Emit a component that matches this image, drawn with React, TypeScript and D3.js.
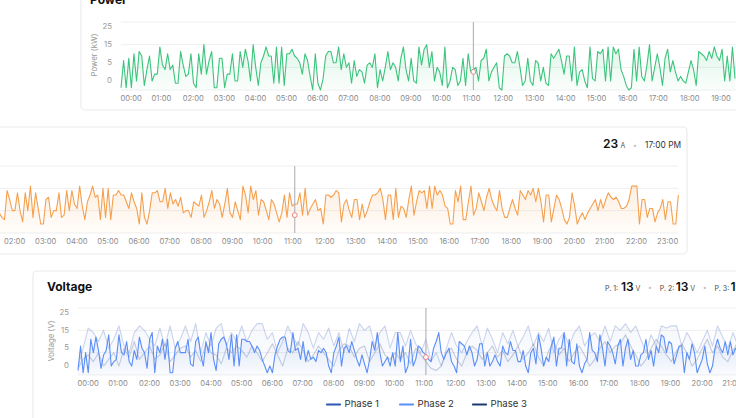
import * as d3 from "d3";

const FONT = "Inter, 'Noto Sans', sans-serif";
const STEP_MIN = 5;
const LAST_STEP = 284; // 00:00 .. 23:40
const hourTicks = d3.range(0, 24);
const yTickLabels = ["25", "15", "5", "0"];
const gridValues = [0, 10, 20, 30];

// power, 5 min samples from 00:00
const powerKw = [
  1, 13, 1, 14, 1, 16, 4, 17, 15, 2, 9, 15, 4, 7, 7, 19, 11, 9, 16, 9,
  11, 3, 3, 17, 11, 6, 7, 16, 3, 1, 16, 7, 20, 7, 13, 17, 1, 1, 14, 14,
  1, 7, 7, 16, 4, 4, 17, 10, 18, 13, 4, 20, 10, 2, 12, 15, 19, 15, 15, 3,
  19, 3, 19, 2, 16, 16, 18, 15, 14, 12, 7, 16, 13, 6, 0, 16, 3, 0, 5, 15,
  17, 17, 12, 12, 19, 9, 16, 10, 12, 3, 13, 6, 9, 8, 3, 11, 12, 10, 16, 1,
  9, 4, 10, 17, 9, 12, 10, 4, 14, 19, 9, 4,
  14, 4, 3, 19, 11, 18, 20, 10, 17, 4, 10, 8, 2, 19, 1, 4, 10, 9, 2, 4,
  14, 2, 16, 8, 9, 10, 4, 13, 14, 18, 4, 8, 10, 12, 1, 0, 15, 16, 15, 12,
  12, 17, 10, 2, 4, 14, 4, 2, 13, 12, 4, 10, 3, 2, 16, 14, 16, 18, 13, 7,
  15, 15, 4, 19, 2, 8, 9, 4, 1, 19, 5, 4, 17, 16, 18, 4, 19, 4, 19, 16,
  18, 9, 6, 2, 0, 1, 18, 4, 19, 6, 4, 11, 20, 4, 10, 16, 10, 2, 14, 18,
  8, 13, 8, 4, 6, 4, 3, 8, 13, 9, 2, 17, 16, 15, 13, 17, 14, 19, 15, 13,
  18, 4, 15, 4, 19, 5,
];

// current, 5 min samples, first visible sample is step 22
const CURRENT_START = 22;
const currentA = [
  9, 7, 6, 19, 15, 10, 10, 18, 10, 5, 18, 10, 21, 7, 18, 11, 4, 4, 15, 16,
  7, 10, 10, 18, 7, 8, 19, 10, 19, 13, 11, 21, 12, 6, 14, 17, 21, 16, 17, 6,
  20, 7, 20, 6, 17, 17, 19, 17, 17, 14, 11, 18, 14, 11, 4, 18, 7, 4, 10, 18,
  18, 19, 14, 14, 20, 11, 18, 13, 15, 12, 16, 9, 10, 10, 7, 14, 13, 12, 17, 7,
  10, 14, 19, 11, 15, 13, 7, 13, 20, 9, 7, 14, 10, 6, 21, 17, 9, 21, 15, 19,
  8, 15, 14, 10, 6, 15, 13, 9, 5, 9, 17, 7, 18, 12, 13, 13, 18, 8, 20, 8,
  11, 13, 15, 10, 11, 4, 17, 17, 16, 17, 19, 18, 5, 13, 15,
  10, 7, 15, 15, 6, 13, 7, 10, 14, 17, 17, 18, 20, 15, 6, 17, 17, 6, 20,
  7, 12, 11, 7, 15, 21, 8, 14, 19, 18, 19, 11, 21, 11, 21, 17, 19, 17, 12,
  11, 4, 4, 19, 14, 21, 6, 6, 14, 21, 8, 11, 18, 14, 10, 16, 20, 15, 12,
  10, 19, 11, 7, 7, 11, 15, 11, 8, 19, 17, 15, 19, 17, 20, 14, 20, 14, 5,
  17, 17, 5, 11, 17, 15, 11, 6, 4, 7, 18, 12, 4, 7, 9, 6, 9, 11, 13,
  15, 10, 15, 11, 15, 18, 16, 15, 16, 14, 11, 11, 12, 15, 21, 21, 21, 4, 15,
  15, 7, 11, 11, 5, 9, 11, 15, 6, 14, 14, 4, 4, 17,
];

// voltage phase 2, 5 min samples from 00:00
const voltageP2 = [
  2, 13, 1, 10, 1, 16, 10, 17, 11, 3, 9, 11, 18, 4, 6, 7, 18, 10, 9, 15,
  6, 4, 11, 7, 17, 12, 10, 3, 16, 19, 1, 13, 10, 16, 7, 16, 1, 1, 12, 15,
  10, 10, 10, 16, 5, 4, 15, 17, 9, 4, 15, 10, 19, 7, 2, 14, 16, 17, 14, 7,
  18, 4, 18, 4, 16, 16, 15, 15, 13, 10, 13, 11, 7, 4, 1, 4, 1, 9, 13, 16,
  17, 17, 11, 10, 19, 11, 12, 7, 15, 6, 11, 7, 8, 6, 11, 10, 12, 10, 4, 1,
  10, 13, 17, 4, 12, 13, 10, 15, 11, 7, 4, 9, 5, 1, 7, 15, 11, 19, 10, 4, 6,
  8, 4, 10, 4, 19, 6, 13, 1, 4, 16, 4, 7, 13, 12, 10, 9, 7, 6, 12, 15,
  19, 10, 7, 10, 12, 6, 4, 1, 15, 14, 13, 9, 13, 10, 4, 7, 14, 14, 4, 10,
  4, 6, 9, 6, 4, 13, 10, 9, 15, 11, 11, 6, 6, 11, 4, 1, 10, 12, 5, 18,
  12, 4, 8, 6, 13, 17, 4, 12, 12, 19, 4, 16, 6, 5, 14, 4, 1, 5, 7, 19,
  11, 10, 6, 18, 12, 4, 15, 13, 10, 5, 13, 16, 4, 12, 16, 7, 11, 4, 4, 9,
  10, 16, 7, 11, 4, 13, 10, 18, 17, 10, 15, 14, 5, 9, 13, 13, 1, 10, 7, 14,
  10, 1, 4, 7, 13, 5, 1, 4, 12, 16, 12, 10, 15, 9, 15, 9, 12, 10, 11,
];

// voltage phases 1 and 3, 10 min samples from 00:00
const voltageP1 = [
  4, 12, 21, 19, 15, 20, 12, 16, 22, 13, 10, 19, 22, 20, 16, 13, 21, 13, 22, 12,
  16, 22, 15, 23, 10, 19, 13, 21, 23, 13, 19, 15, 22, 15, 20, 23, 23, 16, 19, 10,
  15, 22, 17, 13, 23, 19, 12, 19, 16, 21, 13, 19, 10, 21, 15, 23, 20, 22, 13, 19,
  22, 12, 19,
  19, 13, 20, 14, 10, 16, 6, 10, 4, 12, 19, 13, 10, 15, 19, 22, 13, 21, 16, 10,
  19, 14, 20, 13, 17, 22, 13, 19, 15, 21, 10, 16, 19, 13, 19, 22, 13, 17, 19, 15,
  22, 15, 22, 20, 23, 19, 22, 16, 10, 18, 13, 22, 21, 22, 22, 13, 19, 15, 10, 15,
  20, 13, 22, 17, 12, 19, 13, 20, 16, 19,
];
const voltageP3 = [
  3, 7, 9, 6, 10, 4, 7, 10, 4, 12, 8, 15, 7, 10, 13, 7, 9, 14, 6, 9,
  12, 13, 8, 11, 6, 14, 10, 9, 5, 12, 10, 13, 11, 8, 13, 10, 6, 10, 14, 9,
  4, 12, 10, 15, 11, 6, 9, 13, 10, 7, 4, 11, 14, 13, 8, 12, 13, 6, 10, 14,
  9, 7, 10,
  7, 10, 5, 12, 9, 6, 3, 2, 4, 10, 12, 7, 4, 10, 13, 11, 7, 10, 13, 8,
  11, 6, 9, 13, 7, 10, 14, 8, 4, 11, 15, 9, 12, 6, 10, 13, 9, 4, 7, 12,
  15, 10, 13, 14, 18, 13, 9, 4, 7, 12, 16, 13, 9, 6, 11, 14, 10, 4, 7, 12,
  16, 10, 13, 8, 6, 11, 15, 10, 8, 13,
];

// hovered sample (11:20) and its readouts
const HOVER_STEP = 136;
const hoverPower = 8;
const hoverCurrent = 8;
const hoverVoltage = 8;

const phaseNames = ["Phase 1", "Phase 2", "Phase 3"];
const phaseColors = ["#2d55b4", "#5b8ef7", "#1c3a72"];
const phaseNow = [13, 13, 13];

type Series = {
  values: number[];
  start: number; // in 5-min steps
  every: number; // steps between samples
  color: string;
  opacity: number;
  fill: number;
};

function Plot(props: {
  id: string;
  left: number;
  hourPx: number;
  top: number;
  height: number;
  yLabel: string;
  series: Series[];
  hoverValue: number;
  hoverColor: string;
}) {
  const { id, left, hourPx, top, height, yLabel, series, hoverValue } = props;
  const maxMin = LAST_STEP * STEP_MIN;
  const x = d3.scaleLinear().domain([0, maxMin]).range([left, left + (maxMin / 60) * hourPx]);
  const y = d3.scaleLinear().domain([0, 30]).range([top + height, top]);
  const yl = d3.scalePoint<string>().domain(yTickLabels).range([y(27.8), y(4)]);
  const bottom = top + height;

  return (
    <g>
      <defs>
        {series.map((s, k) => (
          <linearGradient key={k} id={`${id}-g${k}`} gradientUnits="userSpaceOnUse" x1={0} x2={0} y1={top + 10} y2={bottom}>
            <stop offset="0%" stopColor={s.color} stopOpacity={s.fill} />
            <stop offset="100%" stopColor={s.color} stopOpacity={s.fill * 0.12} />
          </linearGradient>
        ))}
      </defs>
      {gridValues.map((g) => (
        <line key={g} x1={left} x2={x(maxMin)} y1={y(g)} y2={y(g)} stroke="#efefef" strokeWidth={1} />
      ))}
      {yTickLabels.map((t) => (
        <text key={t} x={left - 9} y={yl(t)} textAnchor="end" dominantBaseline="middle" fontSize={7.8} fill="#9a9a9a">
          {t}
        </text>
      ))}
      <text
        transform={`translate(${left - 26.5},${top + 33}) rotate(-90)`}
        textAnchor="middle"
        dominantBaseline="middle"
        fontSize={7.8}
        fill="#9a9a9a"
      >
        {yLabel}
      </text>
      {hourTicks.map((h) => (
        <text key={h} x={x(h * 60) - 0.5} y={bottom + 8.5} dominantBaseline="middle" fontSize={7.6} fill="#8c8c8c">
          {`${String(h).padStart(2, "0")}:00`}
        </text>
      ))}
      {series.map((s, k) => {
        const px = (_: number, i: number) => x((s.start + i * s.every) * STEP_MIN);
        const area = d3.area<number>().x(px).y0(bottom).y1((v) => y(v));
        const line = d3.line<number>().x(px).y((v) => y(v));
        return (
          <g key={k}>
            <path d={area(s.values) ?? ""} fill={`url(#${id}-g${k})`} />
            <path d={line(s.values) ?? ""} fill="none" stroke={s.color} strokeOpacity={s.opacity} strokeWidth={1.1} strokeLinejoin="round" />
          </g>
        );
      })}
      <line x1={x(HOVER_STEP * STEP_MIN)} x2={x(HOVER_STEP * STEP_MIN)} y1={top} y2={bottom} stroke="#a9a9b2" strokeWidth={1} />
      <circle cx={x(HOVER_STEP * STEP_MIN)} cy={y(hoverValue)} r={2.4} fill="#fff" stroke={props.hoverColor} strokeWidth={1} />
    </g>
  );
}

function Card({ x, y, w, h }: { x: number; y: number; w: number; h: number }) {
  return <rect x={x} y={y} width={w} height={h} rx={4} fill="#fff" stroke="#ebebeb" strokeWidth={1.2} />;
}

export default function App() {
  return (
    <div style={{ position: "fixed", left: 0, top: 0, width: 736, height: 418, overflow: "hidden", background: "#fff" }}>
      <svg width={736} height={418} style={{ display: "block", fontFamily: FONT }}>
        {/* Power */}
        <Card x={81} y={-16} w={900} h={126} />
        <text x={90} y={4} fontSize={12} fontWeight={700} fill="#111">
          Power
        </text>
        <Plot
          id="pw"
          left={121}
          hourPx={31.09}
          top={22}
          height={68}
          yLabel="Power (kW)"
          series={[{ values: powerKw, start: 0, every: 1, color: "#3cc47c", opacity: 1, fill: 0.2 }]}
          hoverValue={hoverPower}
          hoverColor="#f08080"
        />

        {/* Current */}
        <Card x={-120} y={127} w={807} h={127} />
        <text y={147.5} fill="#111">
          <tspan x={603} fontSize={12} fontWeight={600}>23</tspan>
          <tspan x={620.5} fontSize={7} fill="#555">A</tspan>
          <tspan x={633} fontSize={7} fill="#c4c4c4">•</tspan>
          <tspan x={645} fontSize={8.4} fill="#333">17:00 PM</tspan>
        </text>
        <Plot
          id="cu"
          left={-57.7}
          hourPx={31.1}
          top={166}
          height={67}
          yLabel="Current (A)"
          series={[{ values: currentA, start: CURRENT_START, every: 1, color: "#f5a04e", opacity: 1, fill: 0.2 }]}
          hoverValue={hoverCurrent}
          hoverColor="#f08080"
        />

        {/* Voltage */}
        <Card x={33} y={271} w={900} h={200} />
        <text x={47} y={290.5} fontSize={12} fontWeight={700} fill="#111">
          Voltage
        </text>
        {phaseNow.map((v, k) => {
          const gx = 605 + k * 54.8;
          return (
            <g key={k}>
              <text x={gx} y={291} fontSize={7} fill="#444">{`P. ${k + 1}:`}</text>
              <text x={gx + 16} y={291} fontSize={12} fontWeight={600} fill="#111">{v}</text>
              <text x={gx + 30.5} y={291} fontSize={7} fill="#555">V</text>
              {k < phaseNow.length - 1 && (
                <text x={gx + 45} y={290} fontSize={7} fill="#c4c4c4" textAnchor="middle">•</text>
              )}
            </g>
          );
        })}
        <Plot
          id="vo"
          left={78}
          hourPx={30.7}
          top={308}
          height={67}
          yLabel="Voltage (V)"
          series={[
            { values: voltageP1, start: 0, every: 2, color: phaseColors[0], opacity: 0.24, fill: 0.05 },
            { values: voltageP3, start: 0, every: 2, color: phaseColors[2], opacity: 0.24, fill: 0.05 },
            { values: voltageP2, start: 0, every: 1, color: phaseColors[1], opacity: 1, fill: 0.16 },
          ]}
          hoverValue={hoverVoltage}
          hoverColor="#f08080"
        />
        {phaseNames.map((name, k) => {
          const lx = 327 + k * 73;
          return (
            <g key={name}>
              <line x1={lx} x2={lx + 13} y1={404.5} y2={404.5} stroke={phaseColors[k]} strokeWidth={2.2} strokeLinecap="round" />
              <text x={lx + 17.5} y={404.5} dominantBaseline="middle" fontSize={9.6} fill="#333">
                {name}
              </text>
            </g>
          );
        })}
      </svg>
    </div>
  );
}
